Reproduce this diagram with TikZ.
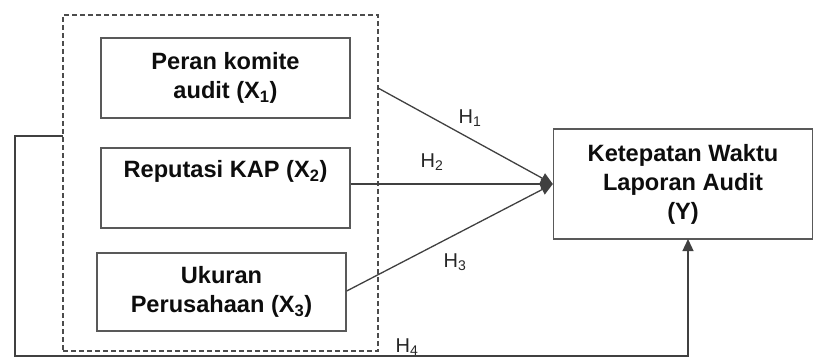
\documentclass[tikz,border=0pt]{standalone}
\usepackage{fontspec}
\setmainfont{Liberation Sans}
\usetikzlibrary{arrows.meta,calc}
\begin{document}
\begin{tikzpicture}[x=1pt,y=-1pt,
  varbox/.style={draw=black!65,line width=1.4pt,align=center,inner sep=0pt,
    font=\fontsize{23.6}{29}\selectfont\bfseries,text=black!95},
  grpbox/.style={draw=black!70,line width=1.3pt,dash pattern=on 5pt off 3pt,inner sep=0pt},
  link/.style={draw=black!75,line width=1.3pt},
  arr/.style={link,-{Triangle[length=12pt,width=11pt]}},
  hlab/.style={font=\fontsize{20}{24}\selectfont,text=black!85,inner sep=0pt}]
\useasboundingbox (0,0) rectangle (813,363);
\node[grpbox,minimum width=315pt,minimum height=336pt] (grp) at (220.5,183) {};
\node[varbox,minimum width=249pt,minimum height=80pt] (X1) at (225.5,78)
  {Peran komite\\audit (X\textsubscript{1})};
\node[varbox,minimum width=249pt,minimum height=80pt] (X2) at (225.5,188)
  {Reputasi KAP (X\textsubscript{2})\\\strut};
\node[varbox,minimum width=249pt,minimum height=78pt] (X3) at (221.5,292)
  {Ukuran\\Perusahaan (X\textsubscript{3})};
\node[varbox,minimum width=259pt,minimum height=110pt] (Y) at (683,184)
  {Ketepatan Waktu\\Laporan Audit\\(Y)};
\coordinate (h1s) at (378,88);
\coordinate (h4s) at (63,136);
\coordinate (h4a) at (15,136);
\coordinate (h4b) at (15,356);
\coordinate (h4e) at (688,239);
\draw[arr] (h1s) -- (Y.west);
\draw[arr] (X2.east |- Y.west) -- (Y.west);
\draw[arr] ($(X3.east)+(0,-1)$) -- (Y.west);
\draw[arr] (h4s) -- (h4a) -- (h4b) -| (h4e);
\node[hlab] (H1) at (470,118) {H\textsubscript{1}};
\node[hlab] (H2) at (432,162) {H\textsubscript{2}};
\node[hlab] (H3) at (455,262) {H\textsubscript{3}};
\node[hlab] (H4) at (407,347) {H\textsubscript{4}};
\end{tikzpicture}
\end{document}
